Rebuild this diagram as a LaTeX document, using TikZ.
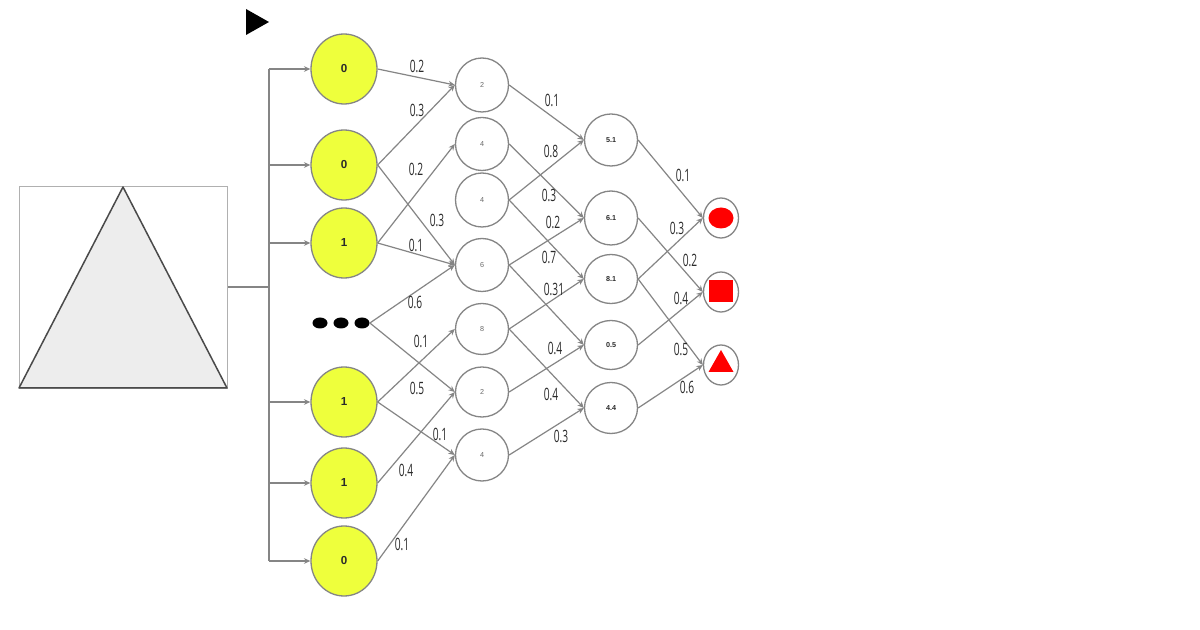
\documentclass[tikz,border=0pt]{standalone}
\usepackage{fontspec}
\setmainfont{Liberation Sans}
\newfontfamily\handfont[FakeStretch=0.6]{Open Sans}
\usetikzlibrary{shapes.geometric,arrows.meta}
\definecolor{wire}{HTML}{858585}
\definecolor{lime}{HTML}{EEFF3C}
\definecolor{ink}{HTML}{2A2A2A}
\tikzset{
  x=0.5pt,y=-0.5pt,
  wireline/.style={draw=wire,line width=0.6pt},
  arrowline/.style={wireline,-{Stealth[length=3.2pt,width=2.8pt]}},
  inputnode/.style={ellipse,draw=wire,line width=0.65pt,fill=lime,minimum width=33pt,minimum height=35pt,inner sep=0pt,font=\fontsize{5.8}{6}\selectfont\bfseries,text=ink},
  hiddenA/.style={ellipse,draw=wire,line width=0.65pt,fill=white,minimum width=26.5pt,minimum height=#1,inner sep=0pt,font=\fontsize{3.6}{4}\selectfont,text=ink!70},
  hiddenB/.style={ellipse,draw=wire,line width=0.65pt,fill=white,minimum width=26.5pt,minimum height=#1,inner sep=0pt,font=\fontsize{3.6}{4}\selectfont\bfseries,text=ink},
  outnode/.style={ellipse,draw=wire,line width=0.65pt,fill=white,minimum width=17.5pt,minimum height=20pt,inner sep=0pt},
  weight/.style={font=\handfont\fontsize{8.5}{9}\selectfont,text=ink,inner sep=0pt},
  dotnode/.style={ellipse,fill=black,minimum width=7.5pt,minimum height=5.5pt,inner sep=0pt},
}
\begin{document}
\begin{tikzpicture}
\useasboundingbox (0,0) rectangle (1200,630);
\fill[white] (0,0) rectangle (1200,630);
% left box
\node[draw=wire!65,line width=0.6pt,minimum width=104pt,minimum height=101pt,inner sep=0pt,anchor=north west] (box) at (19,186) {};
\draw[draw=ink!85,line width=0.75pt,fill=black!7,line join=round] (123,187) -- (19,388) -- (227,388) -- cycle;
\fill[black] (246,9) -- (269,22) -- (246,35) -- cycle;
% inputs
\node[inputnode] (i1) at (344,69) {0};
\node[inputnode] (i2) at (344,165) {0};
\node[inputnode] (i3) at (344,243) {1};
\node[inputnode] (i4) at (344,402) {1};
\node[inputnode] (i5) at (344,483) {1};
\node[inputnode] (i6) at (344,561) {0};
\node[dotnode] (d1) at (320,323) {};
\node[dotnode] (d2) at (341,323) {};
\node[dotnode] (d3) at (362,323) {};
% layer 2
\node[hiddenA=27pt] (a1) at (482,85) {2};
\node[hiddenA=26.5pt] (a2) at (482,144) {4};
\node[hiddenA=27pt] (a3) at (482,200) {4};
\node[hiddenA=26.5pt] (a4) at (482,265) {6};
\node[hiddenA=25.5pt] (a5) at (482,329) {8};
\node[hiddenA=25pt] (a6) at (482,392) {2};
\node[hiddenA=26pt] (a7) at (482,455) {4};
% layer 3
\node[hiddenB=26pt] (b1) at (611,140) {5.1};
\node[hiddenB=27pt] (b2) at (611,218) {6.1};
\node[hiddenB=24.5pt] (b3) at (611,279) {8.1};
\node[hiddenB=24.5pt] (b4) at (611,345) {0.5};
\node[hiddenB=25.5pt] (b5) at (611,408) {4.4};
% outputs
\node[outnode] (c1) at (721,218) {};
\node[outnode] (c2) at (721,292) {};
\node[outnode] (c3) at (721,365) {};
\fill[red] (721,218) ellipse [x radius=12.5,y radius=10.5];
\fill[red] (708.5,280) rectangle (733,302);
\fill[red] (721,350) -- (733.5,372) -- (708.5,372) -- cycle;
% bus
\coordinate (bj) at (269,287);
\coordinate (btop) at (269,69);
\coordinate (bbot) at (269,561);
\draw[wireline] (box.east |- bj) -- (bj);
\draw[wireline] (btop) -- (bbot);
\foreach \n in {i1,i2,i3,i4,i5,i6}{
  \draw[arrowline] (btop |- \n.west) -- (\n.west);
}
% edges
\foreach \s/\t in {i1/a1,i2/a1,i2/a4,i3/a2,i3/a4,i4/a5,i4/a7,i5/a6,i6/a7,
  a1/b1,a2/b2,a3/b1,a3/b3,a4/b2,a4/b4,a5/b3,a5/b5,a6/b4,a7/b5,
  b1/c1,b2/c2,b3/c1,b3/c3,b4/c2,b5/c3}{
  \draw[arrowline] (\s.east) -- (\t.west);
}
\draw[arrowline] (d3.east) -- (a4.west);
\draw[arrowline] (d3.east) -- (a6.west);
% weights
\node[weight] (w1) at (417,66) {0.2};
\node[weight] (w2) at (417,110) {0.3};
\node[weight] (w3) at (416,169) {0.2};
\node[weight] (w4) at (437,220) {0.3};
\node[weight] (w5) at (416,245) {0.1};
\node[weight] (w6) at (415,302) {0.6};
\node[weight] (w7) at (421,341) {0.1};
\node[weight] (w8) at (417,388) {0.5};
\node[weight] (w9) at (440,434) {0.1};
\node[weight] (w10) at (406,470) {0.4};
\node[weight] (w11) at (402,544) {0.1};
\node[weight] (w12) at (552,100) {0.1};
\node[weight] (w13) at (551,151) {0.8};
\node[weight] (w14) at (549,195) {0.3};
\node[weight] (w15) at (553,222) {0.2};
\node[weight] (w16) at (549,257) {0.7};
\node[weight] (w17) at (554,289) {0.31};
\node[weight] (w18) at (555,348) {0.4};
\node[weight] (w19) at (551,394) {0.4};
\node[weight] (w20) at (561,436) {0.3};
\node[weight] (w21) at (683,175) {0.1};
\node[weight] (w22) at (677,228) {0.3};
\node[weight] (w23) at (690,260) {0.2};
\node[weight] (w24) at (681,298) {0.4};
\node[weight] (w25) at (681,349) {0.5};
\node[weight] (w26) at (687,387) {0.6};
\end{tikzpicture}
\end{document}
